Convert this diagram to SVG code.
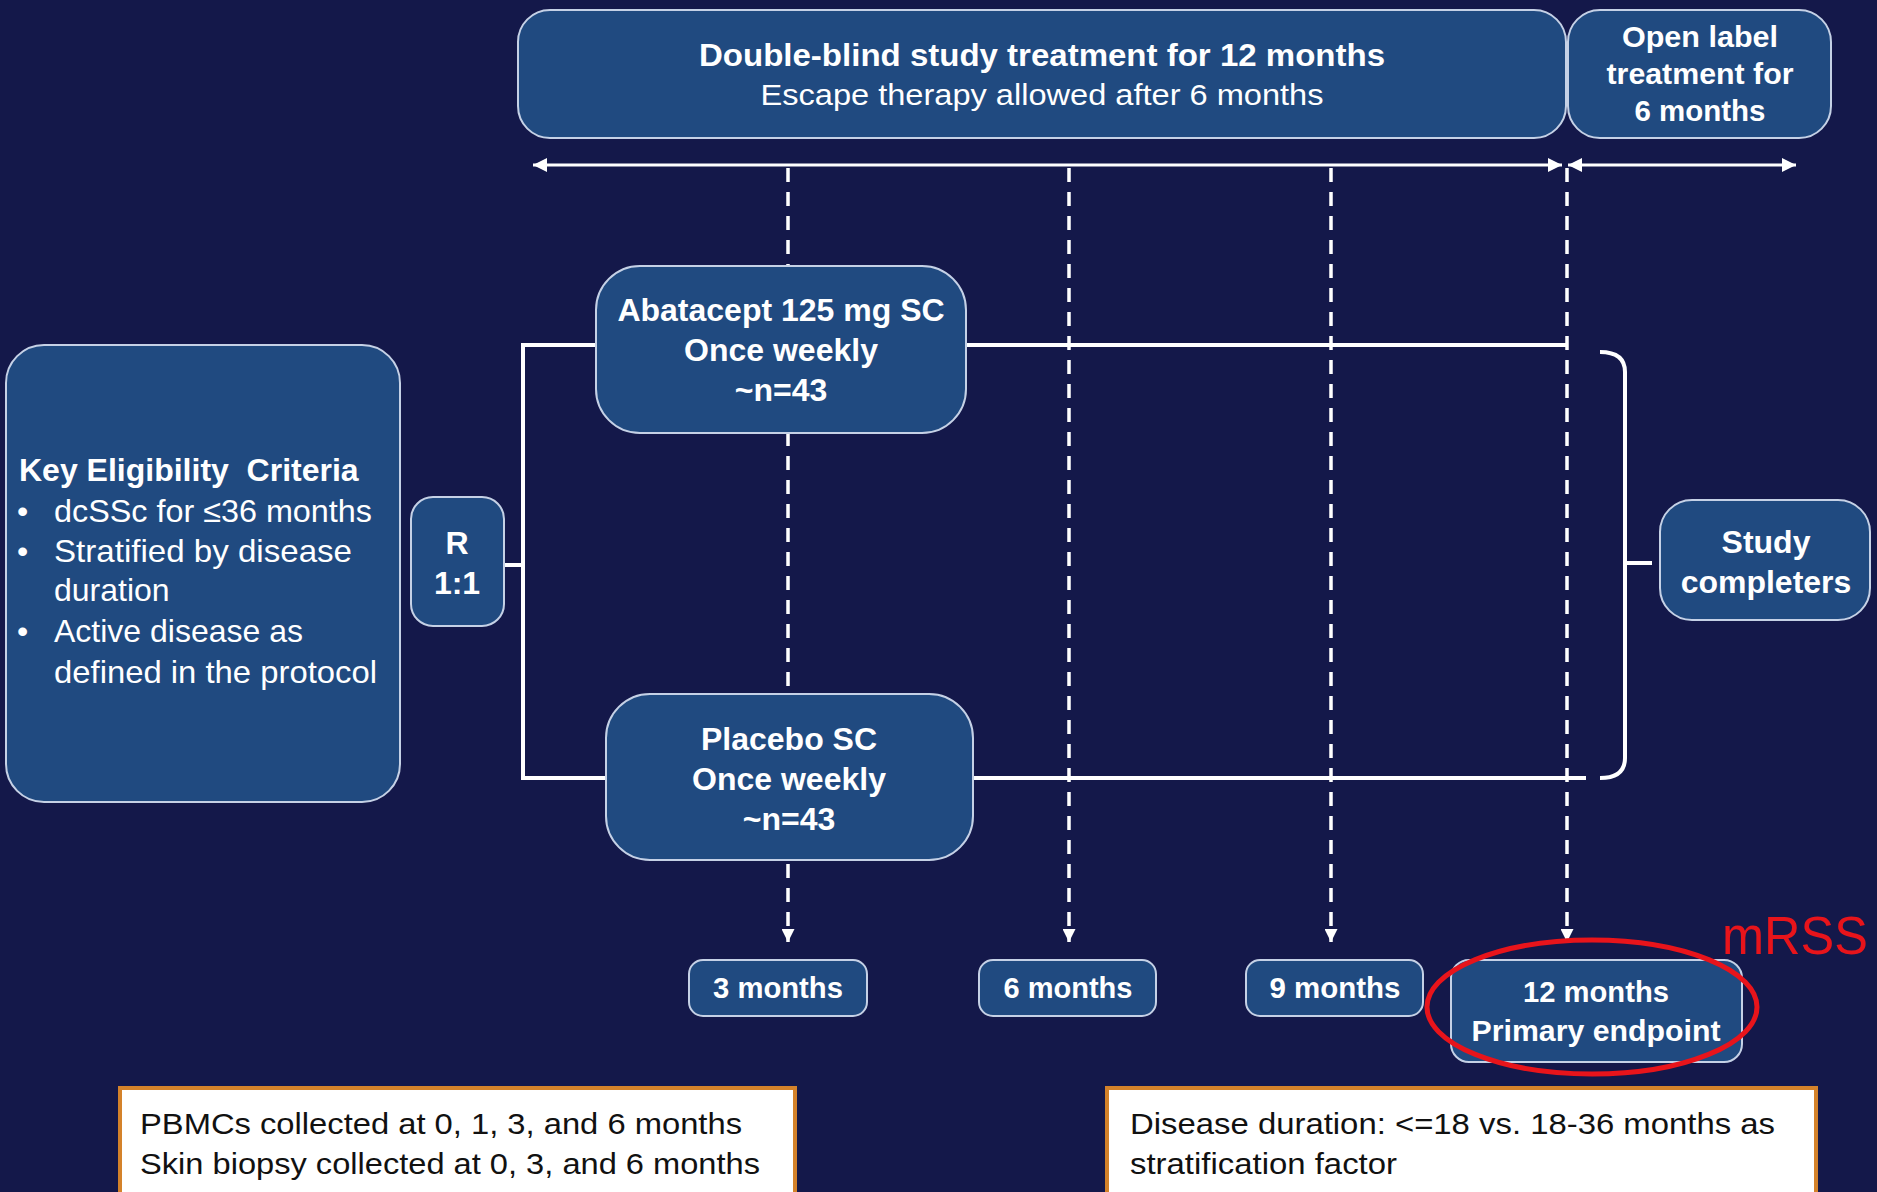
<svg xmlns="http://www.w3.org/2000/svg" width="1877" height="1192" viewBox="0 0 1877 1192">
<style>
.box{fill:#204a80;stroke:#c5d1e6;stroke-width:2}
.t{font-family:"Liberation Sans",Arial,sans-serif;fill:#fff;text-anchor:middle}
.b{font-weight:bold}
.solid{stroke:#fff;stroke-width:4;fill:none}
.dash{stroke:#fff;stroke-width:3.5;stroke-dasharray:14 10;fill:none}
.tl{stroke:#fff;stroke-width:3;fill:none}
.note{fill:#fff;stroke:#d4822a;stroke-width:4}
.nt{font-family:"Liberation Sans",Arial,sans-serif;fill:#111;font-size:30px}
</style>
<defs>
<marker id="ah" viewBox="0 0 10 10" refX="10" refY="5" markerWidth="14" markerHeight="14" markerUnits="userSpaceOnUse" orient="auto-start-reverse"><path d="M0,0 L10,5 L0,10 z" fill="#fff"/></marker>
<marker id="dh" viewBox="0 0 10 10" refX="10" refY="5" markerWidth="14" markerHeight="13" markerUnits="userSpaceOnUse" orient="auto"><path d="M0,0 L10,5 L0,10 z" fill="#fff"/></marker>
</defs>
<rect width="1877" height="1192" fill="#14184a"/>

<g id="connectors">
<line class="tl" x1="533" y1="165" x2="1562" y2="165" marker-start="url(#ah)" marker-end="url(#ah)"/>
<line class="tl" x1="1568" y1="165" x2="1796" y2="165" marker-start="url(#ah)" marker-end="url(#ah)"/>
<line class="dash" x1="788" y1="168" x2="788" y2="942" marker-end="url(#dh)"/>
<line class="dash" x1="1069" y1="168" x2="1069" y2="942" marker-end="url(#dh)"/>
<line class="dash" x1="1331" y1="168" x2="1331" y2="942" marker-end="url(#dh)"/>
<line class="dash" x1="1567" y1="168" x2="1567" y2="942" marker-end="url(#dh)"/>
<path class="solid" d="M600,345 H523 V778 H610"/>
<path class="solid" d="M504,565 H523"/>
<path class="solid" d="M962,345 H1568"/>
<path class="solid" d="M970,778 H1586"/>
<path class="solid" d="M1600,352 Q1625,352 1625,372 V758 Q1625,778 1600,778"/>
<path class="solid" d="M1625,563 H1652"/>
</g>

<g id="double-blind">
<rect class="box" x="518" y="10" width="1048" height="128" rx="32"/>
<text class="t b" x="1042" y="66" font-size="31" textLength="686" lengthAdjust="spacingAndGlyphs">Double-blind study treatment for 12 months</text>
<text class="t" x="1042" y="105" font-size="30" textLength="563" lengthAdjust="spacingAndGlyphs">Escape therapy allowed after 6 months</text>
</g>

<g id="open-label">
<rect class="box" x="1568" y="10" width="263" height="128" rx="32"/>
<text class="t b" x="1700" y="47" font-size="30" textLength="156" lengthAdjust="spacingAndGlyphs">Open label</text>
<text class="t b" x="1700" y="84" font-size="30" textLength="187" lengthAdjust="spacingAndGlyphs">treatment for</text>
<text class="t b" x="1700" y="121" font-size="30" textLength="131" lengthAdjust="spacingAndGlyphs">6 months</text>
</g>

<g id="eligibility">
<rect class="box" x="6" y="345" width="394" height="457" rx="38"/>
<text class="t b" x="19" y="481" font-size="32" style="text-anchor:start" xml:space="preserve">Key Eligibility  Criteria</text>
<g class="t" font-size="32" style="text-anchor:start">
<text x="17" y="522">•</text><text x="54" y="522" textLength="318" lengthAdjust="spacingAndGlyphs">dcSSc for ≤36 months</text>
<text x="17" y="562">•</text><text x="54" y="562" textLength="298" lengthAdjust="spacingAndGlyphs">Stratified by disease</text>
<text x="54" y="601">duration</text>
<text x="17" y="642">•</text><text x="54" y="642">Active disease as</text>
<text x="54" y="683" textLength="323" lengthAdjust="spacingAndGlyphs">defined in the protocol</text>
</g>
</g>

<g id="randomize">
<rect class="box" x="411" y="497" width="93" height="129" rx="22"/>
<text class="t b" x="457" y="554" font-size="32">R</text>
<text class="t b" x="457" y="594" font-size="32">1:1</text>
</g>

<g id="abatacept">
<rect class="box" x="596" y="266" width="370" height="167" rx="44"/>
<text class="t b" x="781" y="321" font-size="32">Abatacept 125 mg SC</text>
<text class="t b" x="781" y="361" font-size="32">Once weekly</text>
<text class="t b" x="781" y="401" font-size="32">~n=43</text>
</g>

<g id="placebo">
<rect class="box" x="606" y="694" width="367" height="166" rx="44"/>
<text class="t b" x="789" y="750" font-size="32">Placebo SC</text>
<text class="t b" x="789" y="790" font-size="32">Once weekly</text>
<text class="t b" x="789" y="830" font-size="32">~n=43</text>
</g>

<g id="completers">
<rect class="box" x="1660" y="500" width="210" height="120" rx="32"/>
<text class="t b" x="1766" y="553" font-size="32">Study</text>
<text class="t b" x="1766" y="593" font-size="32">completers</text>
</g>

<g id="m3">
<rect class="box" x="689" y="960" width="178" height="56" rx="14"/>
<text class="t b" x="778" y="998" font-size="30" textLength="130" lengthAdjust="spacingAndGlyphs">3 months</text>
</g>
<g id="m6">
<rect class="box" x="979" y="960" width="177" height="56" rx="14"/>
<text class="t b" x="1068" y="998" font-size="30" textLength="129" lengthAdjust="spacingAndGlyphs">6 months</text>
</g>
<g id="m9">
<rect class="box" x="1246" y="960" width="177" height="56" rx="14"/>
<text class="t b" x="1335" y="998" font-size="30" textLength="131" lengthAdjust="spacingAndGlyphs">9 months</text>
</g>
<g id="m12">
<rect class="box" x="1451" y="960" width="291" height="102" rx="18"/>
<text class="t b" x="1596" y="1002" font-size="30" textLength="146" lengthAdjust="spacingAndGlyphs">12 months</text>
<text class="t b" x="1596" y="1041" font-size="30" textLength="249" lengthAdjust="spacingAndGlyphs">Primary endpoint</text>
</g>

<g id="mrss">
<ellipse cx="1592" cy="1007" rx="165" ry="67" fill="none" stroke="#e8141b" stroke-width="5"/>
<text x="1722" y="954" font-family="Liberation Sans, Arial, sans-serif" font-size="54" fill="#e8141b" textLength="146" lengthAdjust="spacingAndGlyphs">mRSS</text>
</g>

<g id="note-left">
<rect class="note" x="120" y="1088" width="675" height="112"/>
<text class="nt" x="140" y="1134" textLength="602" lengthAdjust="spacingAndGlyphs">PBMCs collected at 0, 1, 3, and 6 months</text>
<text class="nt" x="140" y="1174" textLength="620" lengthAdjust="spacingAndGlyphs">Skin biopsy collected at 0, 3, and 6 months</text>
</g>
<g id="note-right">
<rect class="note" x="1107" y="1088" width="709" height="112"/>
<text class="nt" x="1130" y="1134" textLength="645" lengthAdjust="spacingAndGlyphs">Disease duration: &lt;=18 vs. 18-36 months as</text>
<text class="nt" x="1130" y="1174" textLength="267" lengthAdjust="spacingAndGlyphs">stratification factor</text>
</g>
</svg>
